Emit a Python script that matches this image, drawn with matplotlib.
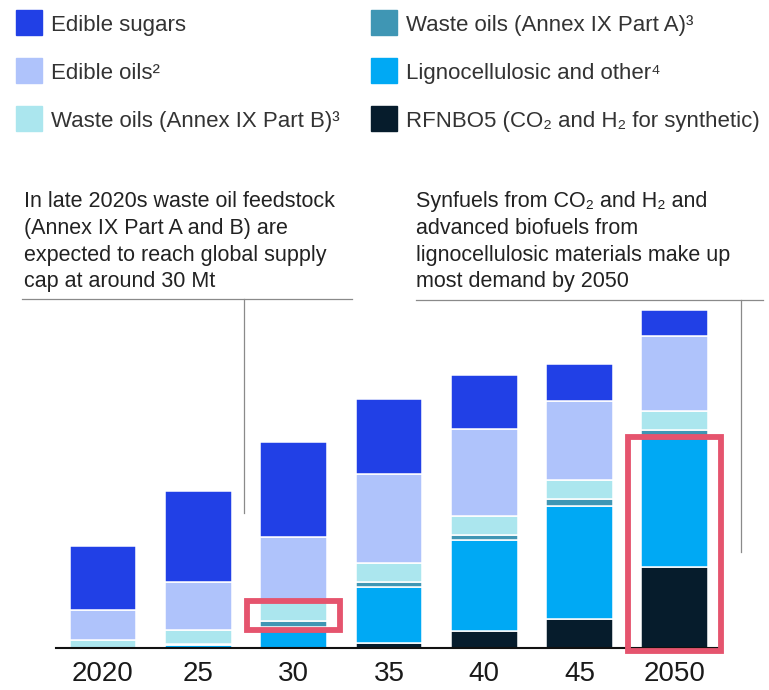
import matplotlib
matplotlib.use("Agg")
from matplotlib import pyplot as plt
from matplotlib.patches import Rectangle
from matplotlib.lines import Line2D
import numpy as np

plt.rcParams['font.family'] = ['Liberation Sans', 'DejaVu Sans']

# 年份刻度
years = ["2020", "25", "30", "35", "40", "45", "2050"]

# 各类原料需求，Mt，从下往上堆叠
rfnbo = [0, 0, 0, 5.5, 20, 35, 97]
ligno = [0, 3.5, 25, 68, 110, 136, 157]
waste_a = [0, 1.2, 8, 6, 6, 8, 8]
waste_b = [10, 17, 22, 23, 23, 23, 22]
edible_oils = [36, 58, 78, 106, 104, 95, 91]
edible_sugars = [76, 109, 114, 90, 65, 44, 31]

series = [rfnbo, ligno, waste_a, waste_b, edible_oils, edible_sugars]
labels = ["RFNBO5 (CO₂ and H₂ for synthetic)",
          "Lignocellulosic and other⁴",
          "Waste oils (Annex IX Part A)³",
          "Waste oils (Annex IX Part B)³",
          "Edible oils²",
          "Edible sugars"]
colors = ["#061C2C", "#00A9F4", "#3F96B4", "#ABE6EE", "#AFC3FB", "#2140E6"]

W, H = 769, 690


def fx(px):
    return px / W


def fy(py):
    return 1 - py / H


fig = plt.figure(figsize=(W / 100, H / 100), dpi=100)

# 坐标系：底线在 y=648px，x 从 56px 到 722px
ax = fig.add_axes([fx(56), fy(648), fx(722 - 56), (648 - 290) / H])
ax.set_ylim(0, (648 - 290) * 1.2)
ax.set_xlim(-0.493, 6.495)

x = np.arange(len(years))
bottom = np.zeros(len(years))
for vals, c in zip(series, colors):
    ax.bar(x, vals, width=0.70, bottom=bottom, color=c,
           edgecolor="white", linewidth=1.1, zorder=2)
    bottom += np.array(vals)

for s in ["top", "right", "left"]:
    ax.spines[s].set_visible(False)
ax.spines["bottom"].set_linewidth(1.5)
ax.spines["bottom"].set_color("#111111")
ax.spines["bottom"].set_zorder(3)
ax.set_yticks([])
ax.set_xticks(x, years)
ax.tick_params(axis="x", length=0, pad=9.5, labelsize=20, labelcolor="#1a1a1a")

# 红框高亮
cum = np.cumsum(series, axis=0)


def highlight(i, lo, hi):
    ax.add_patch(Rectangle((i - 0.488, lo), 0.976, hi - lo, fill=False,
                           edgecolor="#E5546E", linewidth=4.2,
                           zorder=5, clip_on=False))


highlight(2, cum[1][2] - 3, cum[3][2] + 1)
highlight(6, -3, cum[1][6] - 1)

# 图例（手动排列两列）
order = [5, 4, 3, 2, 1, 0]
for k, i in enumerate(order):
    col, row = k // 3, k % 3
    sx = [15.5, 370.5][col]
    sy = 10 + row * 48
    fig.patches.append(Rectangle((fx(sx), fy(sy + 24.5)), fx(26.5), 24.5 / H,
                                 transform=fig.transFigure, color=colors[i]))
    fig.text(fx(sx + 35.5), fy(sy + 21), labels[i], fontsize=16,
             color="#333333", va="baseline", ha="left")

# 注释文字和引线
note_l = ("In late 2020s waste oil feedstock\n(Annex IX Part A and B) are\n"
          "expected to reach global supply\ncap at around 30 Mt")
note_r = ("Synfuels from CO₂ and H₂ and\nadvanced biofuels from\n"
          "lignocellulosic materials make up\nmost demand by 2050")
fig.text(fx(24), fy(191), note_l, fontsize=15.5, color="#222222",
         va="top", ha="left", linespacing=1.36)
fig.text(fx(416.5), fy(191), note_r, fontsize=15.5, color="#222222",
         va="top", ha="left", linespacing=1.36)

lc = "#8a8a8a"
fig.add_artist(Line2D([fx(22), fx(352)], [fy(299), fy(299)], color=lc, lw=0.9))
fig.add_artist(Line2D([fx(243.5), fx(243.5)], [fy(299), fy(513)], color=lc, lw=0.9))
fig.add_artist(Line2D([fx(416), fx(763)], [fy(299.5), fy(299.5)], color=lc, lw=0.9))
fig.add_artist(Line2D([fx(741), fx(741)], [fy(299.5), fy(552)], color=lc, lw=0.9))

fig.savefig("out.png", dpi=100)
